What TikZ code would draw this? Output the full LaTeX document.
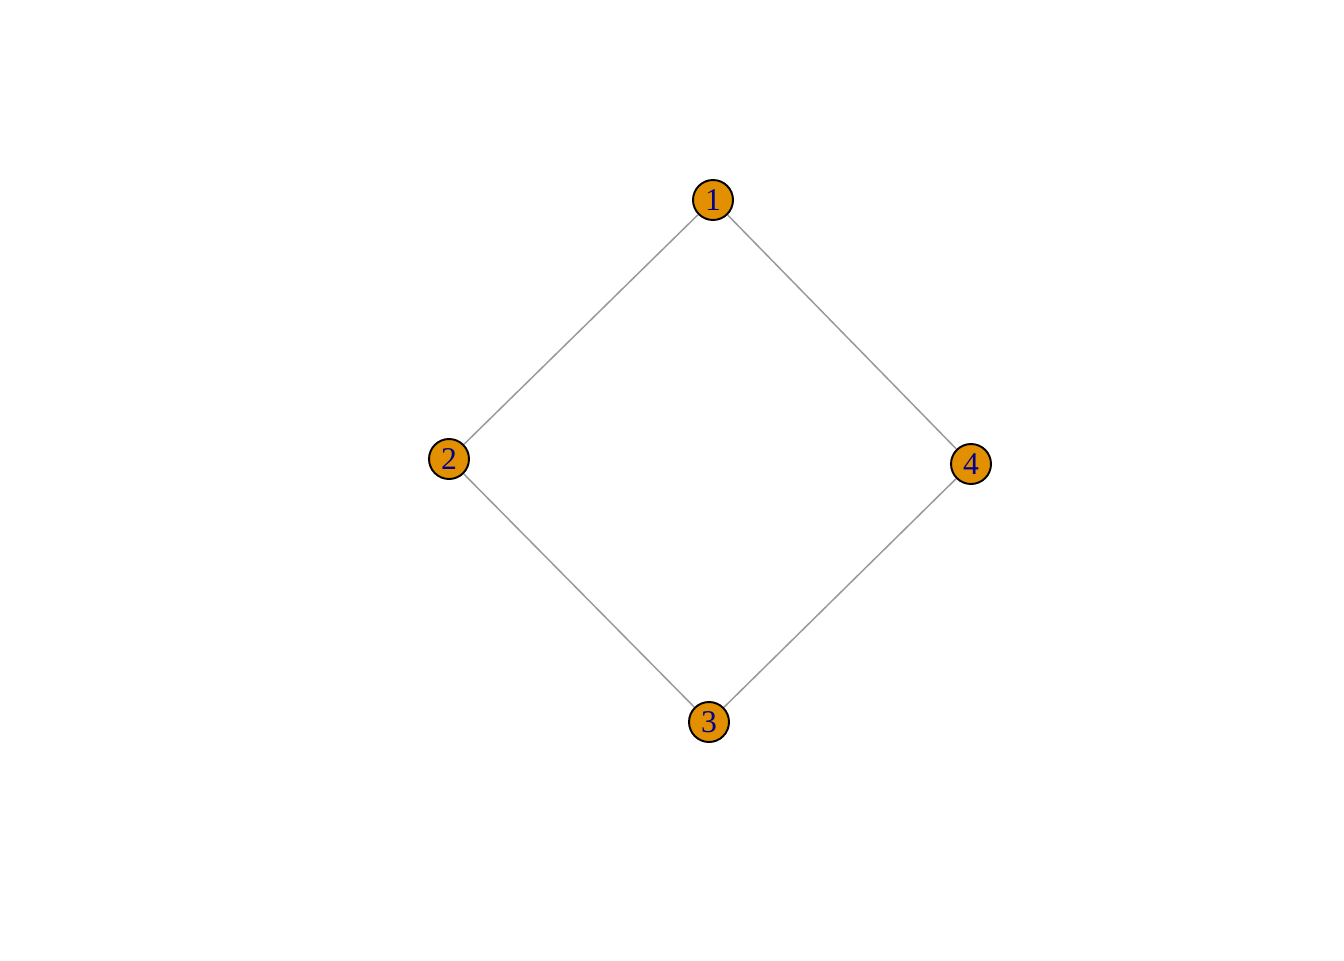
\documentclass[tikz,border=0pt]{standalone}
\usepackage{fontspec}
\setmainfont{Liberation Serif}
\usetikzlibrary{positioning}
\definecolor{vorange}{RGB}{226,144,0}
\definecolor{vlabel}{RGB}{0,0,139}
\definecolor{egray}{RGB}{153,153,153}

\begin{document}
\begin{tikzpicture}[
    x=0.02cm, y=-0.02cm,
    vertex/.style={draw=black, fill=vorange, circle, line width=1.1pt, minimum size=0.8cm, inner sep=0pt, text=vlabel, font=\fontsize{18}{18}\selectfont},
    edge/.style={draw=egray, line width=0.85pt}
]
\useasboundingbox (0,0) rectangle (1344,960);

\node[vertex] (v1) at (713,200) {1};
\node[vertex] (v2) at (449,459) {2};
\node[vertex] (v3) at (709,722) {3};
\node[vertex] (v4) at (971,464) {4};

\draw[edge] (v1) -- (v2);
\draw[edge] (v2) -- (v3);
\draw[edge] (v3) -- (v4);
\draw[edge] (v4) -- (v1);
\end{tikzpicture}
\end{document}
